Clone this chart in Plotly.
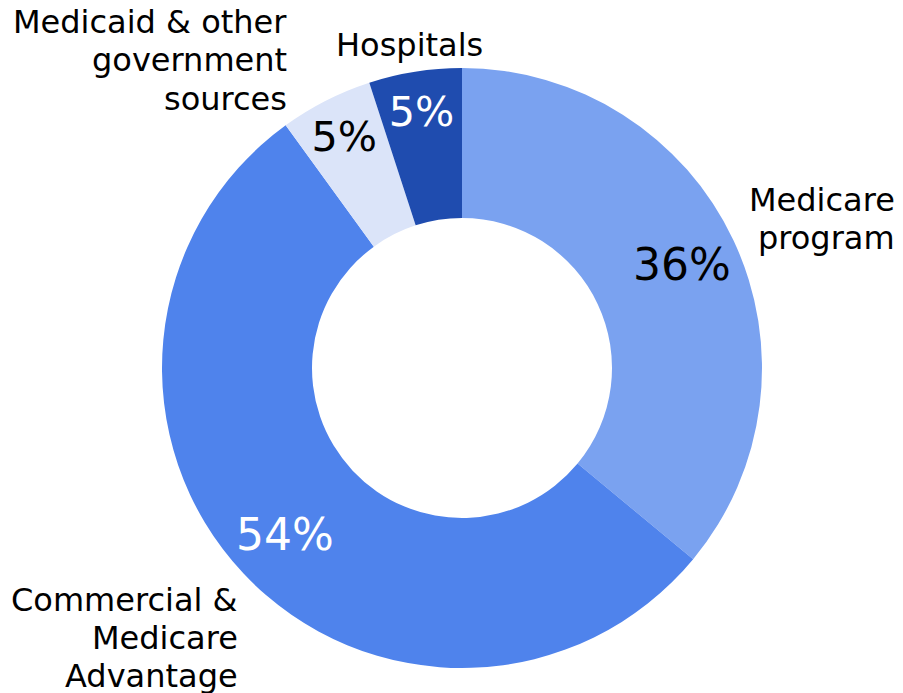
import plotly.graph_objects as go

labels = ["Medicare program", "Commercial & Medicare Advantage",
          "Medicaid & other government sources", "Hospitals"]
values = [36, 54, 5, 5]
colors = ["#7aa2f0", "#4f83ec", "#dbe4f9", "#1f4caf"]
text_colors = ["black", "white", "black", "white"]
# label lines as shown outside the ring
label_lines = [
    ["Medicare", "program"],
    ["Commercial &", "Medicare", "Advantage"],
    ["Medicaid & other", "government", "sources"],
    ["Hospitals"],
]
big = [v >= 20 for v in values]

W, H = 903, 693
L, R, T, B = 162, 141, 68, 25
PW, PH = W - L - R, H - T - B


def px(x):
    return (x - L) / PW


def py(y):
    return (H - B - y) / PH


# ring with percentages for the narrow slices
fig = go.Figure(go.Pie(
    labels=labels,
    values=values,
    hole=0.5,
    sort=False,
    direction="clockwise",
    rotation=0,
    marker=dict(colors=colors, line=dict(width=0)),
    texttemplate=["" if b else "%{percent:.0%}" for b in big],
    textposition="inside",
    insidetextorientation="horizontal",
    textfont=dict(family="DejaVu Sans", size=44, color=text_colors),
    showlegend=False,
    hoverinfo="label+percent",
))
# transparent overlay carrying the percentages of the wide slices
fig.add_trace(go.Pie(
    labels=labels,
    values=values,
    hole=0.62,
    sort=False,
    direction="clockwise",
    rotation=0,
    marker=dict(colors=["rgba(0,0,0,0)"] * len(values), line=dict(width=0)),
    texttemplate=["%{percent:.0%}" if b else "" for b in big],
    textposition="inside",
    insidetextorientation="horizontal",
    textfont=dict(family="DejaVu Sans", size=44, color=text_colors),
    showlegend=False,
    hoverinfo="skip",
))

# line anchors: (right/center x, list of line centre y, anchor)
placements = [
    (897, [200, 238], "right"),
    (240, [600, 638, 676], "right"),
    (289, [22, 60, 99], "right"),
    (409, [45], "center"),
]
annotations = []
for lines, (x, ys, anchor) in zip(label_lines, placements):
    for line, y in zip(lines, ys):
        annotations.append(dict(
            text=line, x=px(x), y=py(y), xref="paper", yref="paper",
            xanchor=anchor, yanchor="middle", showarrow=False,
            font=dict(family="DejaVu Sans", size=32, color="black"),
        ))

fig.update_layout(
    width=W, height=H,
    margin=dict(l=L, r=R, t=T, b=B),
    paper_bgcolor="white",
    plot_bgcolor="white",
    annotations=annotations,
)

fig.write_html("out.html")
